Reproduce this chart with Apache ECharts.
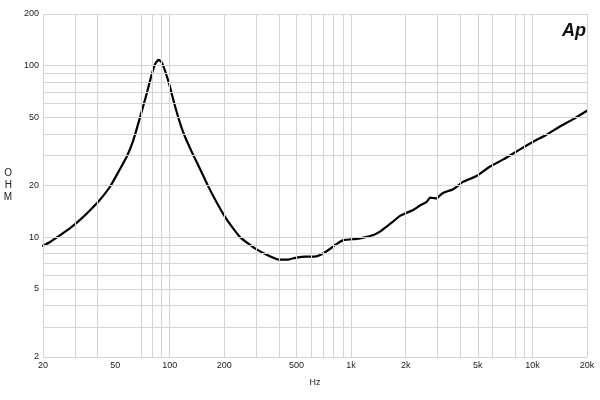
<!DOCTYPE html>
<html>
<head>
<meta charset="utf-8">
<script src="https://cdn.jsdelivr.net/npm/echarts@6/dist/echarts.min.js"></script>
<style>html,body{margin:0;padding:0;background:#fff}#c{width:600px;height:400px}</style>
</head>
<body>
<div id="c"></div>
<script>
// Frequency (Hz) and impedance (ohm)
const freqs = [20,22,25,28,32,36,41,47,53,58,63,68.6,72,75,79.6,83,86.6,90,94,100,106,112,118,124,133,141,153,167,180,201,220,244,270,295,342,400,450,500,560,630,680,760,830,905,1000,1100,1200,1330,1450,1570,1700,1860,2000,2200,2400,2600,2730,2850,2960,3100,3300,3660,4140,4920,5840,6920,8540,10100,11900,14100,16700,20000];
const ohms = [8.9,9.4,10.3,11.2,12.6,14.2,16.4,19.8,24.8,29.5,36.8,50,60,70,89,102,108,105,94,76,60,49,41.5,36.5,31,27.3,22.8,18.8,16.2,13.2,11.5,10.0,9.2,8.6,7.9,7.4,7.4,7.6,7.7,7.7,7.9,8.5,9.1,9.6,9.7,9.8,10.0,10.3,10.8,11.5,12.3,13.3,13.8,14.4,15.3,16.0,17.0,16.9,16.8,17.6,18.3,19.0,21.0,22.7,25.8,28.4,32.5,36.0,39.4,44.0,48.6,54.6];

const xGrid = [20,30,40,70,80,90,100,200,300,400,500,600,700,800,900,1000,2000,3000,4000,5000,6000,8000,9000,10000,20000];
const xTicks = [20,50,100,200,500,1000,2000,5000,10000,20000];
const xTickLabels = ['20','50','100','200','500','1k','2k','5k','10k','20k'];
const yGrid = [2,3,4,5,6,7,8,9,10,20,30,40,50,60,70,80,90,100,200];
const yTicks = [2,5,10,20,50,100,200];
const yTickLabels = ['2','5','10','20','50','100','200'];

const gridColor = '#d4d4d4';
const labelFont = { fontFamily: 'Liberation Sans, Arial, sans-serif', fontSize: 9, color: '#222' };

const gridLines = [];
xGrid.forEach(v => gridLines.push({ xAxis: v, label: { show: false } }));
yGrid.forEach(v => gridLines.push({ yAxis: v, label: { show: false } }));

const tickLabels = [];
xTicks.forEach((v, i) => tickLabels.push({
  xAxis: v,
  label: Object.assign({ show: true, position: 'start', distance: 4, formatter: xTickLabels[i] }, labelFont)
}));
yTicks.forEach((v, i) => tickLabels.push({
  yAxis: v,
  label: Object.assign({ show: true, position: 'start', distance: 4, formatter: yTickLabels[i] }, labelFont)
}));

const data = freqs.map((f, i) => [f, ohms[i]]);

const chart = echarts.init(document.getElementById('c'), null, { renderer: 'canvas' });
chart.setOption({
  animation: false,
  backgroundColor: '#fff',
  title: {
    text: 'Ap', right: 9, top: 17,
    textStyle: { fontFamily: 'Liberation Sans, Arial, sans-serif', fontStyle: 'italic', fontWeight: 'bold', fontSize: 18, color: '#111' }
  },
  grid: { left: 43, right: 13, top: 14, bottom: 43, outerBoundsMode: 'none', containLabel: false },
  xAxis: {
    type: 'log', logBase: 10, min: 20, max: 20000,
    name: 'Hz', nameLocation: 'middle', nameGap: 21,
    nameTextStyle: { fontFamily: 'Liberation Sans, Arial, sans-serif', fontSize: 9, color: '#222' },
    axisLine: { show: false }, axisTick: { show: false }, axisLabel: { show: false }, splitLine: { show: false }
  },
  yAxis: {
    type: 'log', logBase: 10, min: 2, max: 200,
    name: 'O\nH\nM', nameLocation: 'middle', nameRotate: 0, nameGap: 31,
    nameTextStyle: { fontFamily: 'Liberation Sans, Arial, sans-serif', fontSize: 10, color: '#222', lineHeight: 12 },
    axisLine: { show: false }, axisTick: { show: false }, axisLabel: { show: false }, splitLine: { show: false }
  },
  series: [
    {
      type: 'line', z: 1, data: data, silent: true,
      lineStyle: { opacity: 0 }, showSymbol: false, symbol: 'none',
      markLine: {
        silent: true, symbol: ['none', 'none'], animation: false,
        lineStyle: { color: gridColor, width: 1, type: 'solid' },
        label: { show: false },
        data: gridLines
      }
    },
    {
      type: 'line', z: 0, data: data, silent: true,
      lineStyle: { opacity: 0 }, showSymbol: false, symbol: 'none',
      markLine: {
        silent: true, symbol: ['none', 'none'], animation: false,
        lineStyle: { color: 'rgba(255,255,255,0)', width: 1, type: 'solid' },
        label: { show: true },
        data: tickLabels
      }
    },
    {
      type: 'line', z: 3, data: data, smooth: 0.15, showSymbol: false, symbol: 'none',
      lineStyle: { color: '#000', width: 2.2, join: 'round', cap: 'round' }
    }
  ]
});
</script>
</body>
</html>
